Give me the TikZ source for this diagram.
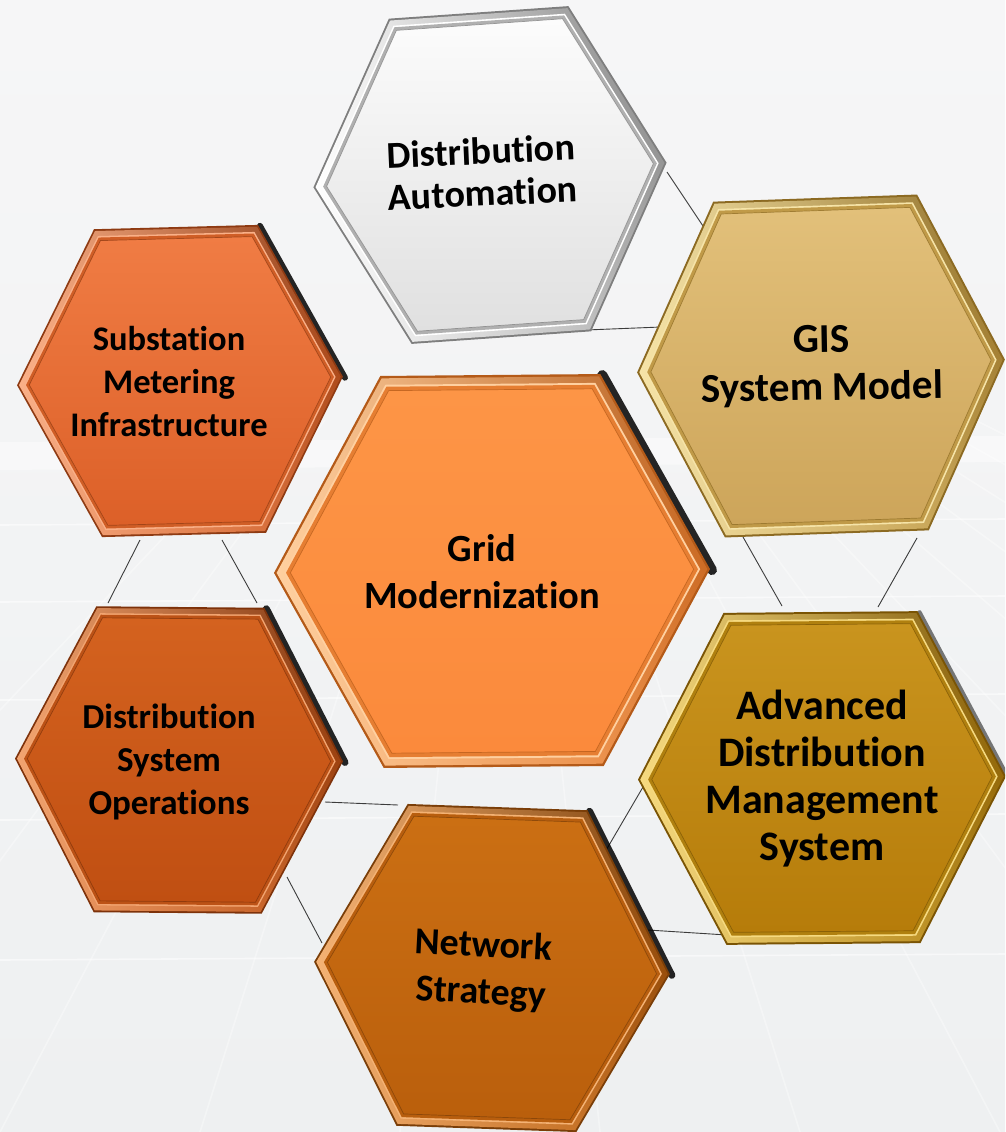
\documentclass[tikz,border=0pt]{standalone}
\usepackage{fontspec}
\setmainfont{Carlito}[Ligatures={NoCommon}]
\usetikzlibrary{calc,shadings}
% palettes: F frame dark, H highlight, M mid bevel, T face top, B face bottom
\definecolor{daF}{HTML}{7E7E7E}\definecolor{daH}{HTML}{FFFFFF}\definecolor{daM}{HTML}{B0B0B0}\definecolor{daT}{HTML}{FCFCFC}\definecolor{daB}{HTML}{E0E0E0}
\definecolor{giF}{HTML}{8C6A22}\definecolor{giH}{HTML}{F6E4A8}\definecolor{giM}{HTML}{C09A48}\definecolor{giT}{HTML}{E2C07A}\definecolor{giB}{HTML}{CDA55A}
\definecolor{smF}{HTML}{8E3A12}\definecolor{smH}{HTML}{FAB088}\definecolor{smM}{HTML}{D05E26}\definecolor{smT}{HTML}{F07C44}\definecolor{smB}{HTML}{DC6028}
\definecolor{gmF}{HTML}{B45A18}\definecolor{gmH}{HTML}{FFD0A0}\definecolor{gmM}{HTML}{E67E32}\definecolor{gmT}{HTML}{FD9546}\definecolor{gmB}{HTML}{FB8A3C}
\definecolor{dsF}{HTML}{7E320A}\definecolor{dsH}{HTML}{F2A470}\definecolor{dsM}{HTML}{BC5216}\definecolor{dsT}{HTML}{D4621F}\definecolor{dsB}{HTML}{C04F12}
\definecolor{adF}{HTML}{7A5404}\definecolor{adH}{HTML}{F6DA80}\definecolor{adM}{HTML}{B0800F}\definecolor{adT}{HTML}{C9941E}\definecolor{adB}{HTML}{B67C0A}
\definecolor{nsF}{HTML}{7A3E08}\definecolor{nsH}{HTML}{F4B274}\definecolor{nsM}{HTML}{B85E0E}\definecolor{nsT}{HTML}{CB6F13}\definecolor{nsB}{HTML}{BA5F0C}
\definecolor{bgA}{HTML}{F6F6F7}\definecolor{bgB}{HTML}{E7E9EB}\definecolor{bgC}{HTML}{EEF0F1}
\definecolor{link}{HTML}{3C3C3C}
\tikzset{
  hexp/.style n args={3}{insert path={(-#1,0) -- (-#3,-#2) -- (#3,-#2) -- (#1,0) -- (#3,#2) -- (-#3,#2) -- cycle}},
  lbl/.style={align=center, text=black, inner sep=0pt},
  conn/.style={draw=link, line width=0.9},
  bgline/.style={draw=white, line width=1.6, opacity=0.55},
}
\newcommand\hexbody[4]{%
  \fill[#4F, hexp={#1}{#2}{#3}];
  \shade[upper left=#4H, upper right=#4F, lower left=#4H, lower right=#4M, scale=0.988, hexp={#1}{#2}{#3}];
  \fill[#4H, scale=0.955, hexp={#1}{#2}{#3}];
  \fill[#4M, scale=0.945, hexp={#1}{#2}{#3}];
  \shade[top color=#4T, bottom color=#4B, scale=0.925, hexp={#1}{#2}{#3}];
  \draw[#4F, line width=0.7, opacity=0.7, scale=0.925, hexp={#1}{#2}{#3}];
}
\newcommand\hexshadow[4]{\draw[line width=#4, black, opacity=0.85, line cap=round] ($(#3,-#2)+(2,1)$) -- ($(#1,0)+(2,1)$);}
\begin{document}
\begin{tikzpicture}[x=1pt,y=-1pt]
\useasboundingbox (0,0) rectangle (1005,1132);
\clip (0,0) rectangle (1005,1132);
% background
\shade[top color=bgA, middle color=bgB, bottom color=bgC] (0,0) rectangle (1005,1132);
\fill[white, opacity=0.45] (0,442) -- (1005,436) -- (1005,462) -- (0,470) -- cycle;
\foreach \yy in {525,602,700,820,960} \draw[bgline] (0,\yy) -- (1005,\yy-6);
\foreach \xx in {-900,-700,-500,-300,-100,100,300,500,700,900,1100,1300,1500,1700,1900}
  \draw[bgline, opacity=0.35] (500+0.25*\xx,420) -- (500+\xx,1132);
% connectors (drawn beneath the hexagons)
\coordinate (p1) at (667,172); \coordinate (q1) at (711,238);
\coordinate (p2) at (586,330); \coordinate (q2) at (661,327);
\coordinate (p3) at (743,537); \coordinate (q3) at (782,606);
\coordinate (p4) at (917,538); \coordinate (q4) at (878,607);
\coordinate (p5) at (643,787); \coordinate (q5) at (605,852);
\coordinate (p6) at (648,930); \coordinate (q6) at (727,935);
\coordinate (p7) at (325,802); \coordinate (q7) at (398,805);
\coordinate (p8) at (287,877); \coordinate (q8) at (322,943);
\coordinate (p9) at (140,540); \coordinate (q9) at (108,603);
\coordinate (p10) at (222,540); \coordinate (q10) at (257,603);
\foreach \i in {1,...,10} \draw[conn] (p\i) -- (q\i);
% Distribution Automation
\begin{scope}[shift={(490,175)}, rotate=4]
  \hexbody{177}{163}{90}{da}
\end{scope}
% GIS
\begin{scope}[shift={(821,366)}, rotate=2]
  \hexbody{184}{168}{102}{gi}
\end{scope}
% Substation Metering Infrastructure
\begin{scope}[shift={(180,381)}, rotate=1.5]
  \hexshadow{163}{154}{82}{6}
  \hexbody{163}{154}{82}{sm}
\end{scope}
% Grid Modernization
\begin{scope}[shift={(492,571)}, rotate=0.5]
  \hexshadow{218}{196}{110}{10}
  \hexbody{218}{196}{110}{gm}
\end{scope}
% Distribution System Operations
\begin{scope}[shift={(179,760)}, rotate=-0.5]
  \hexshadow{164}{153}{84}{7}
  \hexbody{164}{153}{84}{ds}
\end{scope}
% ADMS
\begin{scope}[shift={(822,778)}, rotate=0.5]
  \draw[line width=4, black!75, opacity=0.7, line cap=round] ($(97,-166)+(2,1)$) -- ($(184,0)+(2,1)$);
  \hexbody{184}{166}{97}{ad}
\end{scope}
% Network Strategy
\begin{scope}[shift={(492,968)}, rotate=-2]
  \hexshadow{178}{161}{90}{7}
  \hexbody{178}{161}{90}{ns}
\end{scope}
% labels
\node[lbl, rotate=2.5, font=\bfseries\fontsize{38}{42}\selectfont] (da) at (482,172) {Distribution\\Automation};
\node[lbl, rotate=1, font=\bfseries\fontsize{41}{48}\selectfont] (gis) at (822,366) {GIS\\System Model};
\node[lbl, font=\bfseries\fontsize{34.5}{43}\selectfont] (smi) at (169,382) {Substation\\Metering\\Infrastructure};
\node[lbl, font=\bfseries\fontsize{38.5}{47}\selectfont] (gm) at (482,572) {Grid\\Modernization};
\node[lbl, font=\bfseries\fontsize{35}{43}\selectfont] (dso) at (169,762) {Distribution\\System\\Operations};
\node[lbl, font=\bfseries\fontsize{42}{47}\selectfont] (adms) at (822,779) {Advanced\\Distribution\\Management\\System};
\node[lbl, rotate=-3, font=\bfseries\fontsize{38}{47}\selectfont] (ns) at (482,970) {Network\\Strategy};
\end{tikzpicture}
\end{document}
